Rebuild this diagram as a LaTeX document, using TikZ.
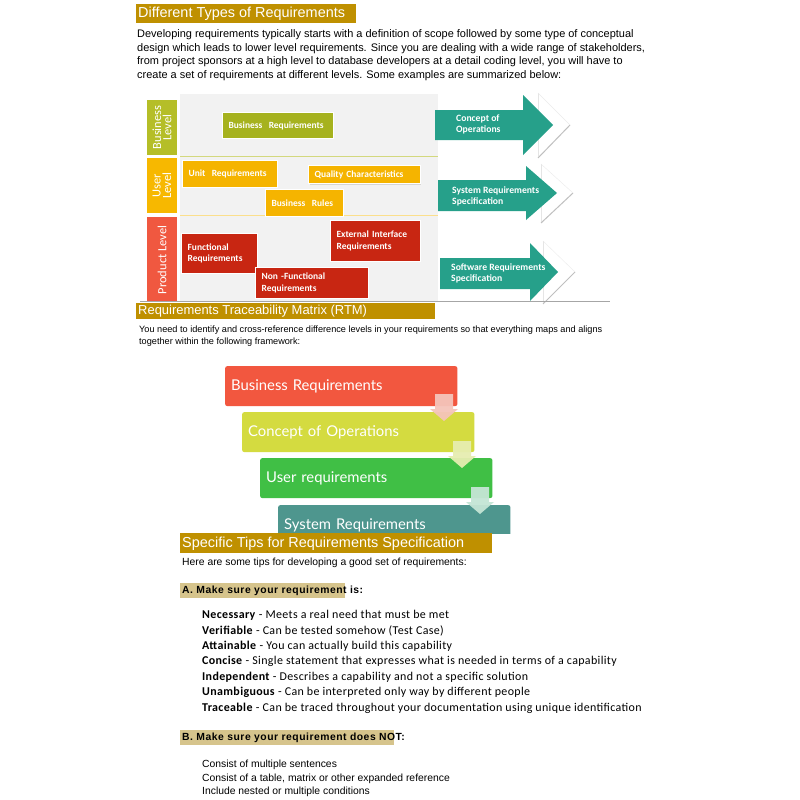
\documentclass[tikz,border=0pt]{standalone}
\usepackage{fontspec}
\setmainfont{Liberation Sans}
\newfontfamily\carfont{Carlito}
\newfontfamily\latofont{Lato}
\usetikzlibrary{shadows}

\definecolor{gold}{RGB}{191,144,0}
\definecolor{tan}{RGB}{214,196,140}
\definecolor{panel}{RGB}{242,242,242}
\definecolor{lvgreen}{RGB}{181,190,40}
\definecolor{lvyellow}{RGB}{247,184,0}
\definecolor{lvred}{RGB}{240,88,64}
\definecolor{bxgreen}{RGB}{166,178,30}
\definecolor{bxyellow}{RGB}{245,180,0}
\definecolor{bxred}{RGB}{200,38,18}
\definecolor{teal}{RGB}{38,160,138}
\definecolor{flred}{RGB}{242,87,63}
\definecolor{flyellow}{RGB}{212,219,64}
\definecolor{flgreen}{RGB}{64,191,69}
\definecolor{flteal}{RGB}{78,150,142}
\definecolor{arpink}{RGB}{245,196,186}
\definecolor{aryellow}{RGB}{230,237,176}
\definecolor{argreen}{RGB}{197,229,213}

\begin{document}
\begin{tikzpicture}[x=1bp,y=-1bp,
  headtxt/.style={anchor=west, inner sep=0, text=white, font=\fontsize{14.5}{16}\selectfont},
  bodytxt/.style={anchor=west, inner sep=0, font=\fontsize{11}{12}\selectfont},
  reqbox/.style={anchor=north west, draw=white, line width=1.2pt, inner xsep=6, inner ysep=2,
    align=left, text=white, font=\carfont\bfseries\fontsize{9.5}{11.5}\selectfont,
    drop shadow={opacity=0.25, shadow xshift=1pt, shadow yshift=-1pt}},
  lvtxt/.style={rotate=90, text=white, align=center, font=\carfont\fontsize{12.5}{12}\selectfont},
  arrtxt/.style={anchor=west, inner sep=0, text=white, align=left, font=\carfont\bfseries\fontsize{9.7}{11}\selectfont},
  flow/.style={anchor=north west, rounded corners=2pt, minimum width=233, minimum height=40, inner xsep=6,
    text width=221, align=left, text=white, font=\latofont\fontsize{14.9}{16}\selectfont},
  tiptxt/.style={anchor=west, inner sep=0, font=\carfont\addfontfeatures{LetterSpace=3}\fontsize{12}{13}\selectfont},
  listtxt/.style={anchor=west, inner sep=0, font=\fontsize{10.4}{11}\selectfont},
  listhead/.style={anchor=west, inner sep=0, font=\addfontfeatures{LetterSpace=5}\bfseries\fontsize{10.4}{11}\selectfont},
]
\useasboundingbox (0,0) rectangle (800,800);
\fill[white] (0,0) rectangle (800,800);

% first section
\fill[gold] (136,4) rectangle (356,23);
\node[headtxt] (h1) at (138,13.5) {Different Types of Requirements};
\node[bodytxt] (p1) at (137,34.5) {Developing requirements typically starts with a definition of scope followed by some type of conceptual};
\node[bodytxt] (p2) at (137,48.5) {design which leads to lower level requirements. Since you are dealing with a wide range of stakeholders,};
\node[bodytxt] (p3) at (137,62) {from project sponsors at a high level to database developers at a detail coding level, you will have to};
\node[bodytxt] (p4) at (137,75.5) {create a set of requirements at different levels. Some examples are summarized below:};

% levels chart
\fill[panel] (180,94) rectangle (438,301);
\draw[lvgreen!60, line width=0.8pt] (180,156) -- (438,156);
\draw[lvyellow!45, line width=0.8pt] (180,215) -- (438,215);
\fill[lvgreen] (147,100) rectangle (177,155);
\fill[lvyellow] (147,158) rectangle (177,213);
\fill[lvred] (147,217) rectangle (177,301);
\node[lvtxt] (lb) at (162,127.5) {Business\\[-1.5pt]Level};
\node[lvtxt] (lu) at (162,185.5) {User\\[-1.5pt]Level};
\node[lvtxt] (lp) at (162,260) {Product Level};

\node[reqbox, fill=bxgreen, text width=99, minimum height=26] (br) at (222,112) {Business\ \ Requirements};
\node[reqbox, fill=bxyellow, text width=83, minimum height=27] (ur) at (182,160) {Unit\ \ Requirements};
\node[reqbox, fill=bxyellow, text width=100, minimum height=18] (qc) at (308,165) {Quality Characteristics};
\node[reqbox, fill=bxyellow, text width=66, minimum height=27] (bru) at (265,189) {Business\ \ Rules};
\node[reqbox, fill=bxred, text width=64, minimum height=40] (fr) at (181,233) {Functional\\Requirements};
\node[reqbox, fill=bxred, text width=78, minimum height=41] (ei) at (330,220) {External Interface\\Requirements};
\node[reqbox, fill=bxred, text width=101, minimum height=31] (nf) at (255,267) {Non -Functional\\Requirements};

% level arrows
\foreach \yt/\yb/\yh/\yl/\yc/\xl/\xh/\xt/\xw in {110/140/95/155/125/435/523/553/538, 180/211/166/220/193/438/526/557/541, 258/289/243/301/272/440/530/558/543}{
  \fill[white] (\xw,\yh-2) -- (\xw+32,\yc) -- (\xw,\yl+3) -- cycle;
  \draw[black!10] (\xw,\yh-2) -- (\xw,\yl+3);
  \draw[black!25, line width=1pt] (\xw+32,\yc) -- (\xw,\yl+3);
  \draw[black!8] (\xw,\yh-2) -- (\xw+32,\yc);
  \fill[teal] (\xl,\yt) -- (\xh,\yt) -- (\xh,\yh) -- (\xt,\yc) -- (\xh,\yl) -- (\xh,\yb) -- (\xl,\yb) -- cycle;
}
\node[arrtxt] (a1) at (456,124.5) {Concept of\\Operations};
\node[arrtxt] (a2) at (452,196.5) {System Requirements\\Specification};
\node[arrtxt] (a3) at (451,273.5) {Software Requirements\\Specification};
\draw[black!35, line width=0.6pt] (140,301.5) -- (610,301.5);

% RTM section
\fill[gold] (136,303) rectangle (435,319);
\node[headtxt, font=\fontsize{13}{14}\selectfont] (h2) at (138,311) {Requirements Traceability Matrix (RTM)};
\node[bodytxt, font=\fontsize{9.2}{10}\selectfont] (r1) at (139,330) {You need to identify and cross-reference difference levels in your requirements so that everything maps and aligns};
\node[bodytxt, font=\fontsize{9.2}{10}\selectfont] (r2) at (139,342) {together within the following framework:};

\begin{scope}
\clip (0,0) rectangle (800,533);
\node[flow, fill=flred] (f1) at (225,366) {Business Requirements};
\node[flow, fill=flyellow] (f2) at (242,412) {Concept of Operations};
\node[flow, fill=flgreen] (f3) at (260,458) {User requirements};
\node[flow, fill=flteal] (f4) at (278,505) {System Requirements};
\end{scope}
\foreach \xc/\yt/\col in {444/394/arpink, 462/441/aryellow, 480/487/argreen}{
  \fill[\col, opacity=0.95] (\xc-9,\yt) -- (\xc+9,\yt) -- (\xc+9,\yt+15) -- (\xc+14,\yt+15) -- (\xc,\yt+27) -- (\xc-14,\yt+15) -- (\xc-9,\yt+15) -- cycle;
}

% tips section
\fill[gold] (180,533) rectangle (492,553);
\node[headtxt] (h3) at (182,543.5) {Specific Tips for Requirements Specification};
\node[listtxt] (t0) at (182,563) {Here are some tips for developing a good set of requirements:};
\fill[tan] (180,583) rectangle (345,598);
\node[listhead] (ta) at (182,591) {A. Make sure your requirement is:};
\node[tiptxt] (n1) at (202,615) {\textbf{Necessary} - Meets a real need that must be met};
\node[tiptxt] (n2) at (202,630.5) {\textbf{Verifiable} - Can be tested somehow (Test Case)};
\node[tiptxt] (n3) at (202,646) {\textbf{Attainable} - You can actually build this capability};
\node[tiptxt] (n4) at (202,661.5) {\textbf{Concise} - Single statement that expresses what is needed in terms of a capability};
\node[tiptxt] (n5) at (202,677) {\textbf{Independent} - Describes a capability and not a specific solution};
\node[tiptxt] (n6) at (202,692.5) {\textbf{Unambiguous} - Can be interpreted only way by different people};
\node[tiptxt] (n7) at (202,708.5) {\textbf{Traceable} - Can be traced throughout your documentation using unique identification};
\fill[tan] (180,730) rectangle (394,745);
\node[listhead] (tb) at (182,737.5) {B. Make sure your requirement does NOT:};
\node[listtxt] (m1) at (202,765) {Consist of multiple sentences};
\node[listtxt] (m2) at (202,778.5) {Consist of a table, matrix or other expanded reference};
\node[listtxt] (m3) at (202,791.5) {Include nested or multiple conditions};
\end{tikzpicture}
\end{document}
